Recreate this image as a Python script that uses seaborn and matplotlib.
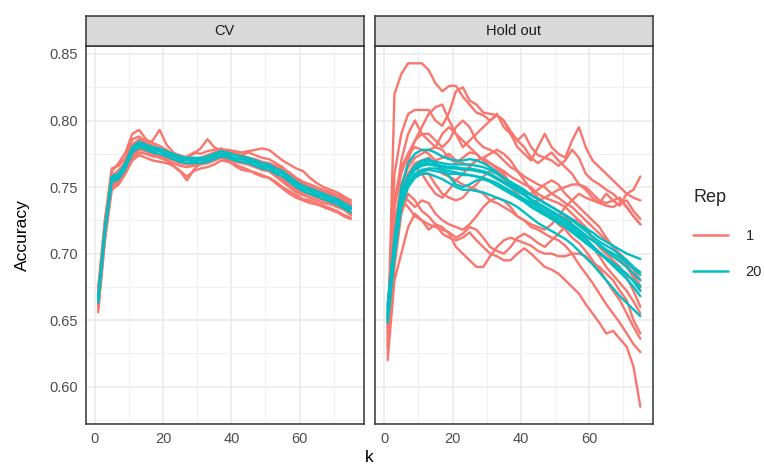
# k-NN accuracy vs k, CV and hold out, single rep vs 20 reps
import matplotlib
matplotlib.use("Agg")
import matplotlib.pyplot as plt
from matplotlib.lines import Line2D
import seaborn as sns
import pandas as pd
import numpy as np

k_values = list(range(1, 76, 2))

# accuracy x 1000, one list per repeated run
cv_rep1 = [
    [668, 724, 762, 768, 776, 790, 793, 786, 783, 781, 778, 774, 772, 773, 776, 775, 777, 778, 779, 777, 775, 774, 776, 774, 772, 771, 768, 765, 760, 756, 753, 752, 749, 746, 744, 742, 740, 737],
    [656, 710, 748, 752, 760, 770, 774, 772, 770, 769, 768, 766, 762, 758, 762, 764, 765, 767, 770, 769, 767, 765, 763, 760, 758, 757, 754, 750, 747, 744, 741, 740, 738, 736, 734, 732, 729, 727],
    [672, 720, 758, 763, 768, 780, 784, 782, 785, 793, 782, 776, 773, 771, 769, 768, 769, 772, 774, 776, 775, 773, 772, 771, 769, 768, 766, 764, 761, 757, 754, 752, 750, 747, 745, 744, 741, 738],
    [660, 715, 753, 756, 764, 775, 779, 777, 774, 772, 770, 768, 766, 765, 766, 767, 768, 770, 773, 771, 769, 768, 767, 765, 763, 762, 759, 756, 751, 747, 744, 742, 740, 738, 737, 735, 733, 730],
    [670, 722, 760, 760, 770, 782, 786, 783, 780, 778, 776, 775, 774, 772, 775, 779, 786, 780, 777, 776, 775, 773, 771, 769, 768, 767, 764, 762, 758, 754, 751, 749, 747, 745, 743, 741, 739, 736],
    [663, 716, 754, 757, 765, 776, 780, 779, 776, 774, 771, 766, 762, 755, 763, 768, 769, 771, 772, 772, 770, 769, 768, 766, 763, 762, 758, 754, 750, 746, 744, 745, 743, 741, 739, 737, 733, 729],
    [667, 719, 757, 759, 767, 779, 783, 781, 779, 777, 776, 774, 773, 771, 771, 771, 772, 774, 777, 778, 777, 776, 777, 778, 779, 778, 774, 770, 767, 764, 762, 757, 753, 750, 748, 746, 743, 740],
    [659, 712, 750, 754, 762, 773, 778, 777, 775, 774, 773, 771, 769, 768, 767, 768, 768, 770, 772, 770, 766, 763, 762, 761, 759, 757, 753, 749, 745, 742, 740, 738, 737, 735, 733, 731, 728, 726],
    [674, 726, 764, 766, 772, 786, 788, 784, 781, 779, 777, 775, 772, 771, 771, 772, 774, 776, 778, 778, 776, 774, 772, 770, 768, 767, 765, 762, 759, 755, 752, 750, 749, 748, 746, 744, 742, 740],
    [662, 714, 752, 755, 763, 772, 776, 775, 773, 773, 772, 770, 768, 767, 767, 768, 770, 772, 774, 773, 771, 769, 767, 765, 764, 763, 760, 757, 753, 749, 746, 744, 742, 740, 738, 736, 734, 731],
]
cv_rep20 = [
    [665, 718, 756, 758, 766, 778, 782, 780, 778, 777, 775, 773, 771, 770, 770, 770, 771, 773, 775, 774, 772, 771, 770, 768, 766, 765, 762, 760, 756, 752, 749, 747, 745, 743, 741, 739, 736, 733],
    [667, 720, 758, 760, 768, 780, 784, 782, 780, 779, 777, 775, 773, 772, 772, 772, 773, 775, 777, 776, 774, 773, 772, 770, 768, 767, 764, 762, 758, 754, 751, 749, 747, 745, 743, 741, 738, 735],
    [663, 716, 754, 756, 764, 776, 780, 778, 776, 775, 773, 771, 769, 768, 768, 768, 769, 771, 773, 772, 770, 769, 768, 766, 764, 763, 760, 758, 754, 750, 747, 745, 743, 741, 739, 737, 734, 731],
    [666, 719, 757, 757, 767, 779, 781, 781, 777, 778, 774, 774, 770, 771, 769, 771, 770, 774, 774, 775, 771, 772, 769, 769, 765, 766, 761, 761, 755, 753, 748, 748, 744, 744, 740, 740, 735, 734],
]
ho_rep1 = [
    [630, 820, 835, 843, 843, 843, 838, 828, 822, 826, 826, 818, 812, 806, 804, 800, 804, 800, 792, 785, 780, 772, 768, 772, 776, 770, 765, 760, 752, 748, 742, 738, 745, 740, 736, 745, 748, 758],
    [640, 760, 790, 805, 808, 808, 808, 800, 796, 806, 822, 825, 815, 812, 806, 805, 804, 800, 790, 785, 790, 780, 774, 772, 770, 766, 770, 778, 772, 760, 755, 752, 748, 745, 740, 735, 728, 722],
    [650, 735, 770, 790, 800, 790, 785, 780, 790, 795, 790, 780, 785, 790, 795, 800, 805, 795, 790, 780, 775, 770, 780, 790, 780, 775, 772, 785, 795, 780, 770, 765, 760, 755, 750, 745, 742, 740],
    [620, 680, 700, 720, 730, 725, 718, 722, 720, 715, 705, 700, 695, 690, 690, 698, 705, 710, 712, 710, 708, 706, 702, 700, 700, 698, 698, 700, 700, 698, 693, 690, 685, 680, 672, 665, 650, 640],
    [625, 690, 730, 745, 740, 732, 728, 722, 715, 712, 710, 712, 716, 710, 705, 700, 698, 695, 695, 700, 704, 700, 695, 690, 688, 685, 680, 675, 670, 662, 655, 648, 640, 642, 636, 630, 615, 585],
    [645, 720, 750, 760, 768, 770, 772, 768, 760, 758, 755, 752, 750, 748, 745, 740, 738, 735, 732, 728, 725, 720, 718, 715, 712, 710, 706, 700, 692, 685, 678, 670, 662, 655, 648, 640, 632, 626],
    [655, 740, 765, 775, 780, 778, 775, 770, 772, 775, 770, 768, 766, 770, 772, 768, 764, 760, 752, 748, 745, 740, 735, 730, 728, 722, 718, 712, 708, 702, 695, 688, 680, 672, 665, 655, 645, 636],
    [660, 720, 752, 765, 772, 775, 778, 780, 778, 772, 768, 772, 776, 775, 770, 768, 765, 762, 758, 755, 752, 750, 745, 742, 740, 738, 735, 730, 725, 718, 712, 705, 700, 695, 690, 682, 672, 660],
    [650, 735, 760, 775, 785, 790, 790, 785, 780, 785, 795, 800, 795, 785, 780, 778, 775, 770, 765, 762, 758, 755, 752, 750, 745, 742, 738, 735, 730, 725, 720, 715, 710, 705, 700, 695, 688, 680],
    [640, 700, 738, 752, 758, 762, 760, 752, 745, 742, 740, 742, 748, 752, 758, 762, 760, 756, 750, 745, 740, 738, 740, 742, 745, 748, 750, 752, 752, 750, 745, 740, 738, 740, 742, 735, 728, 722],
    [635, 710, 742, 740, 735, 740, 738, 730, 725, 722, 720, 718, 722, 728, 735, 740, 742, 740, 735, 728, 725, 722, 720, 718, 722, 728, 735, 740, 745, 742, 740, 738, 736, 735, 738, 740, 732, 726],
    [630, 705, 745, 770, 785, 795, 805, 810, 812, 800, 790, 785, 780, 775, 770, 765, 762, 758, 752, 748, 745, 745, 748, 752, 755, 752, 745, 740, 735, 730, 725, 720, 712, 705, 698, 692, 684, 676],
    [645, 715, 748, 760, 765, 760, 752, 745, 742, 748, 755, 760, 765, 770, 772, 775, 778, 775, 770, 762, 755, 748, 742, 738, 735, 732, 728, 722, 718, 712, 705, 698, 690, 684, 678, 672, 664, 655],
    [650, 720, 740, 735, 728, 725, 722, 720, 718, 716, 712, 715, 720, 718, 712, 705, 702, 700, 705, 712, 715, 712, 708, 705, 710, 715, 720, 725, 725, 720, 712, 705, 700, 698, 695, 690, 682, 672],
]
ho_rep20 = [
    [660, 712, 750, 768, 775, 778, 778, 776, 773, 771, 770, 770, 771, 770, 768, 765, 761, 757, 753, 750, 747, 744, 741, 738, 735, 732, 729, 726, 722, 719, 716, 712, 709, 706, 703, 700, 698, 696],
    [648, 698, 735, 750, 757, 760, 760, 758, 756, 753, 750, 748, 748, 747, 746, 744, 742, 740, 738, 735, 731, 727, 723, 720, 717, 714, 711, 707, 702, 697, 692, 686, 680, 674, 668, 663, 658, 653],
    [655, 706, 742, 757, 764, 767, 768, 767, 766, 765, 765, 764, 764, 763, 762, 760, 757, 754, 751, 748, 745, 741, 738, 735, 732, 729, 726, 722, 718, 714, 710, 706, 702, 698, 694, 690, 685, 680],
    [652, 702, 738, 753, 760, 763, 764, 764, 763, 762, 761, 760, 759, 758, 757, 755, 752, 749, 746, 743, 740, 736, 733, 730, 727, 724, 721, 717, 713, 709, 705, 701, 697, 693, 689, 685, 679, 672],
    [658, 708, 744, 758, 765, 768, 770, 769, 768, 767, 767, 767, 767, 766, 765, 763, 760, 757, 754, 751, 748, 744, 741, 738, 735, 732, 729, 725, 721, 717, 713, 709, 706, 703, 699, 695, 690, 686],
    [650, 700, 737, 752, 759, 762, 763, 762, 761, 760, 760, 759, 759, 758, 756, 754, 751, 748, 745, 742, 739, 735, 732, 729, 726, 723, 720, 716, 712, 708, 704, 700, 696, 692, 688, 684, 680, 675],
    [662, 710, 745, 758, 766, 770, 771, 768, 764, 758, 752, 750, 752, 755, 756, 755, 753, 750, 747, 744, 741, 738, 735, 732, 729, 726, 723, 719, 715, 711, 706, 701, 696, 691, 686, 681, 675, 668],
    [654, 704, 741, 756, 763, 766, 767, 766, 765, 764, 764, 763, 763, 762, 761, 759, 756, 753, 750, 747, 744, 740, 737, 734, 731, 728, 725, 721, 717, 713, 710, 707, 703, 700, 697, 693, 689, 684],
]

panels = ["CV", "Hold out"]
rep_levels = ["1", "20"]
palette = {"1": "#F8766D", "20": "#00BFC4"}

# Long table for seaborn
rows = []
for panel, rep, lines in [("CV", "1", cv_rep1), ("CV", "20", cv_rep20),
                          ("Hold out", "1", ho_rep1), ("Hold out", "20", ho_rep20)]:
    for run, vals in enumerate(lines):
        assert len(vals) == len(k_values), (panel, rep, run, len(vals))
        for k, v in zip(k_values, vals):
            rows.append({"panel": panel, "Rep": rep, "run": f"{rep}_{run}",
                         "k": k, "Accuracy": v / 1000})
df = pd.DataFrame(rows)

sns.set_theme(style="white")
plt.rcParams["font.family"] = ["Liberation Sans", "DejaVu Sans"]

W, H = 764, 466
fig = plt.figure(figsize=(W / 100, H / 100), dpi=100)

panel_left = [85.5, 375]
panel_w = 278
panel_top, panel_bot = 46, 424
strip_top = 16

for i, panel in enumerate(panels):
    x0 = panel_left[i]
    ax = fig.add_axes([x0 / W, 1 - panel_bot / H, panel_w / W, (panel_bot - panel_top) / H])
    sub = df[df["panel"] == panel]
    sns.lineplot(data=sub, x="k", y="Accuracy", hue="Rep", hue_order=rep_levels,
                 units="run", estimator=None, sort=False, palette=palette,
                 linewidth=1.7, legend=False, ax=ax)
    ax.set_xlim(-2.7, 78.7)
    ax.set_ylim(0.572, 0.856)
    ax.set_xticks([0, 20, 40, 60])
    ax.set_xticks([10, 30, 50, 70], minor=True)
    ax.set_yticks([0.60, 0.65, 0.70, 0.75, 0.80, 0.85])
    ax.set_yticks([0.575, 0.625, 0.675, 0.725, 0.775, 0.825], minor=True)
    ax.set_yticklabels([f"{v:.2f}" for v in [0.60, 0.65, 0.70, 0.75, 0.80, 0.85]])
    ax.set_axisbelow(True)
    ax.grid(which="major", color="#EBEBEB", linewidth=1.2)
    ax.grid(which="minor", color="#F0F0F0", linewidth=0.7)
    ax.tick_params(which="major", direction="out", length=3.5, width=1.0,
                   color="#333333", labelcolor="#4D4D4D", labelsize=10.5, pad=2)
    ax.tick_params(which="minor", length=0)
    for s in ax.spines.values():
        s.set_color("#333333")
        s.set_linewidth(1.1)
    ax.set_xlabel("")
    ax.set_ylabel("")
    if i == 1:
        ax.tick_params(axis="y", left=False, labelleft=False)

    # facet strip
    sax = fig.add_axes([x0 / W, 1 - panel_top / H, panel_w / W, (panel_top - strip_top) / H])
    sax.set_facecolor("#D9D9D9")
    sax.set_xticks([])
    sax.set_yticks([])
    for s in sax.spines.values():
        s.set_color("#333333")
        s.set_linewidth(1.1)
    sax.text(0.5, 0.5, panel, ha="center", va="center", fontsize=10.5, color="#1A1A1A",
             transform=sax.transAxes)

fig.text(22 / W, 1 - 235 / H, "Accuracy", rotation=90, ha="center", va="center",
         fontsize=12.5, color="black")
fig.text(369 / W, 1 - 458 / H, "k", ha="center", va="center", fontsize=12.5,
         color="black")

handles = [Line2D([], [], color=palette[r], linewidth=1.8) for r in rep_levels]
leg = fig.legend(handles, rep_levels, title="Rep", loc="upper left",
                 bbox_to_anchor=(680 / W, 1 - 176 / H), frameon=False,
                 fontsize=10.5, title_fontsize=13, handlelength=2.4,
                 labelspacing=1.55, handletextpad=1.2)
leg._legend_box.align = "left"

fig.savefig("out.png", dpi=100)
